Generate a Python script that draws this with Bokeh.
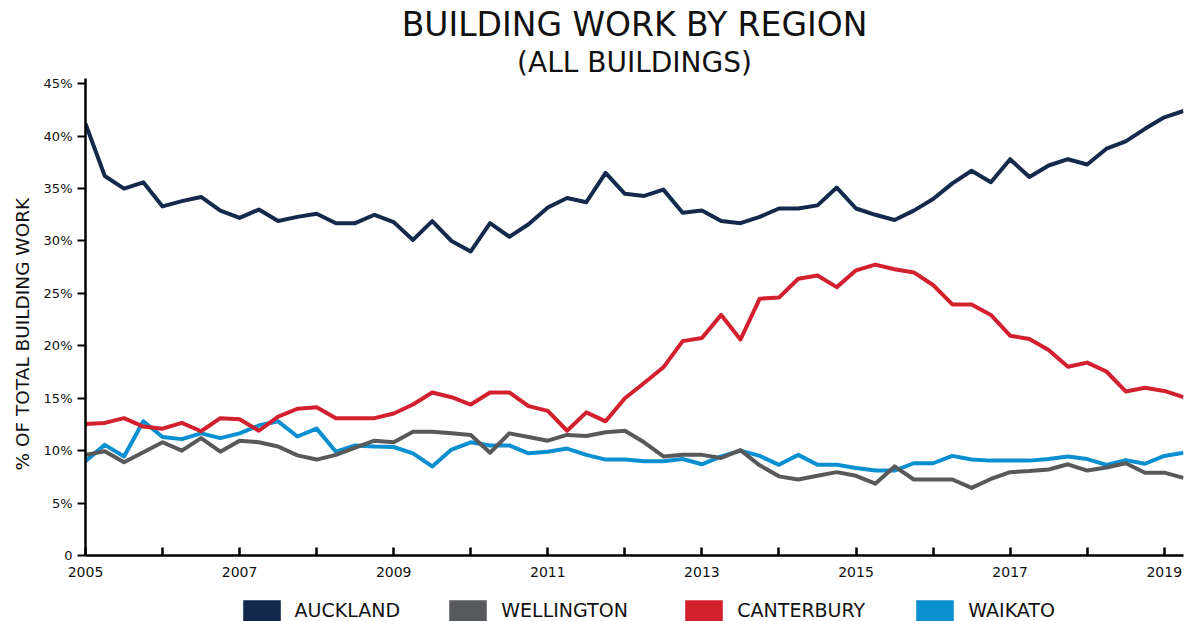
from bokeh.plotting import figure
from bokeh.layouts import column
from bokeh.models import (Title, Legend, LegendItem, FixedTicker, ColumnDataSource, Range1d)
from bokeh.embed import file_html
from bokeh.resources import INLINE

start_year = 2005.0
n_quarters = 58

auckland = [41.2, 36.2, 35.0, 35.6, 33.3, 33.8, 34.2, 32.9, 32.2, 33.0, 31.9, 32.3, 32.6, 31.7, 31.7, 32.5, 31.8,
            30.1, 31.9, 30.0, 29.0, 31.7, 30.4, 31.6, 33.2, 34.1, 33.7, 36.5, 34.5, 34.3, 34.9, 32.7, 32.9, 31.9,
            31.7, 32.3, 33.1, 33.1,
            33.4, 35.1, 33.1, 32.5, 32.0, 32.9, 34.0, 35.5, 36.7, 35.6, 37.8, 36.1, 37.2, 37.8, 37.3, 38.8, 39.5,
            40.7, 41.8, 42.4]
wellington = [9.6, 9.95, 8.9, 9.85, 10.8, 10.0, 11.2, 9.9, 10.95, 10.8, 10.4, 9.55, 9.15, 9.6, 10.3, 10.95, 10.8,
              11.8, 11.8, 11.65, 11.5, 9.8, 11.65, 11.3, 10.95, 11.5, 11.4, 11.75, 11.9, 10.8, 9.45, 9.6, 9.6, 9.3,
              10.05, 8.6, 7.55, 7.25,
              7.6, 7.95, 7.6, 6.85, 8.5, 7.25, 7.25, 7.25, 6.45, 7.3, 7.95, 8.05, 8.2, 8.7, 8.1, 8.4, 8.8, 7.9, 7.9,
              7.4]
canterbury = [12.55, 12.65, 13.1, 12.3, 12.1, 12.65, 11.85, 13.1, 13.0, 11.9, 13.25, 14.0, 14.15, 13.1, 13.1, 13.1,
              13.55, 14.4, 15.55, 15.1, 14.4, 15.55, 15.55, 14.25, 13.8, 11.9, 13.65, 12.8, 15.0, 16.45, 17.95,
              20.45, 20.75, 22.95, 20.6, 24.5, 24.6, 26.4,
              26.7, 25.6, 27.2, 27.75, 27.3, 27.0, 25.8, 23.95, 23.95, 22.95, 20.97, 20.65, 19.6, 18.0, 18.4, 17.55,
              15.65, 16.0, 15.7, 15.1]
waikato = [9.0, 10.55, 9.45, 12.8, 11.3, 11.1, 11.65, 11.2, 11.65, 12.4, 12.8, 11.35, 12.1, 9.9, 10.5, 10.4, 10.35,
           9.75, 8.5, 10.1, 10.8, 10.5, 10.5, 9.75, 9.9, 10.2, 9.6, 9.15, 9.15, 9.0, 9.0, 9.2, 8.7, 9.45, 10.0, 9.5,
           8.65, 9.6,
           8.65, 8.65, 8.35, 8.1, 8.1, 8.8, 8.8, 9.5, 9.15, 9.05, 9.05, 9.05, 9.2, 9.45, 9.2, 8.65, 9.1, 8.75, 9.5,
           9.8]

regions = ["AUCKLAND", "WELLINGTON", "CANTERBURY", "WAIKATO"]
colors = ["#142A4C", "#58595B", "#D2202F", "#0A8FD0"]
series = [auckland, wellington, canterbury, waikato]

x_ticks = list(range(2005, 2020))
y_ticks = [0, 5, 10, 15, 20, 25, 30, 35, 40, 45]

quarters = [start_year + 0.25 * i for i in range(n_quarters)]

FONT = "DejaVu Sans"
TXT = "#111111"

p = figure(width=1194, height=596, output_backend="svg", toolbar_location=None,
           x_range=Range1d(2005, 2019.25), y_range=Range1d(0, 45.5),
           min_border_left=85, min_border_right=11, min_border_top=78, min_border_bottom=41)
p.outline_line_color = None
p.xgrid.visible = False
p.ygrid.visible = False
p.background_fill_color = "white"
p.border_fill_color = "white"

draw_order = [3, 1, 2, 0]
for k in draw_order:
    src = ColumnDataSource(dict(x=quarters, y=series[k]))
    p.line("x", "y", source=src, line_color=colors[k], line_width=4, line_join="round")

# axes
xa = p.xaxis[0]
xa.ticker = FixedTicker(ticks=x_ticks)
xa.major_label_overrides = {y: (str(y) if (y - 2005) % 2 == 0 else "") for y in x_ticks}
xa.major_tick_in = 8
xa.major_tick_out = 0
xa.minor_tick_line_color = None
xa.axis_line_width = 2.5
xa.axis_line_color = "black"
xa.major_tick_line_width = 2.5
xa.major_tick_line_color = "black"
xa.major_label_text_font = FONT
xa.major_label_text_font_size = "14px"
xa.major_label_text_color = TXT
xa.major_label_standoff = 11

ya = p.yaxis[0]
ya.ticker = FixedTicker(ticks=y_ticks)
ya.major_label_overrides = {v: ("0" if v == 0 else f"{v}%") for v in y_ticks}
ya.major_tick_in = 0
ya.major_tick_out = 8
ya.minor_tick_line_color = None
ya.axis_line_width = 2.5
ya.axis_line_color = "black"
ya.major_tick_line_width = 2
ya.major_tick_line_color = "black"
ya.major_label_text_font = FONT
ya.major_label_text_font_size = "13px"
ya.major_label_text_color = TXT
ya.major_label_standoff = 5

p.add_layout(Title(text="% OF TOTAL BUILDING WORK", align="left", offset=85, text_font=FONT,
                   text_font_size="18.5px", text_font_style="normal", text_color=TXT, standoff=16), "left")

p.add_layout(Title(text="(ALL BUILDINGS)", align="center", text_font=FONT, text_font_size="28px",
                   text_font_style="normal", text_color=TXT, standoff=0), "above")
p.add_layout(Title(text="BUILDING WORK BY REGION", align="center", text_font=FONT, text_font_size="33px",
                   text_font_style="normal", text_color=TXT, standoff=0), "above")

# legend strip below the chart (its frame is aligned with the chart's frame)
leg = figure(width=1194, height=25, output_backend="svg", toolbar_location=None,
             x_range=Range1d(0, 1), y_range=Range1d(0, 1), x_axis_type=None, y_axis_type=None,
             min_border=0)
leg.outline_line_color = None
leg.xgrid.visible = False
leg.ygrid.visible = False

legend_x = [152.6, 359.3, 595.3, 826.3]
for k in range(4):
    r = leg.quad(left=[5], right=[6], top=[6], bottom=[5], fill_color=colors[k], line_color=None)
    lg = Legend(items=[LegendItem(label=regions[k], renderers=[r])], orientation="horizontal",
                location=(legend_x[k], -2.5),
                glyph_width=47, glyph_height=27, label_standoff=10, label_height=27,
                label_text_font=FONT, label_text_font_size="19px", label_text_color=TXT,
                border_line_color=None, background_fill_alpha=0, padding=0, margin=0)
    leg.add_layout(lg, "center")

layout = column(p, leg, spacing=0)
open("out.html", "w").write(file_html(layout, INLINE))
